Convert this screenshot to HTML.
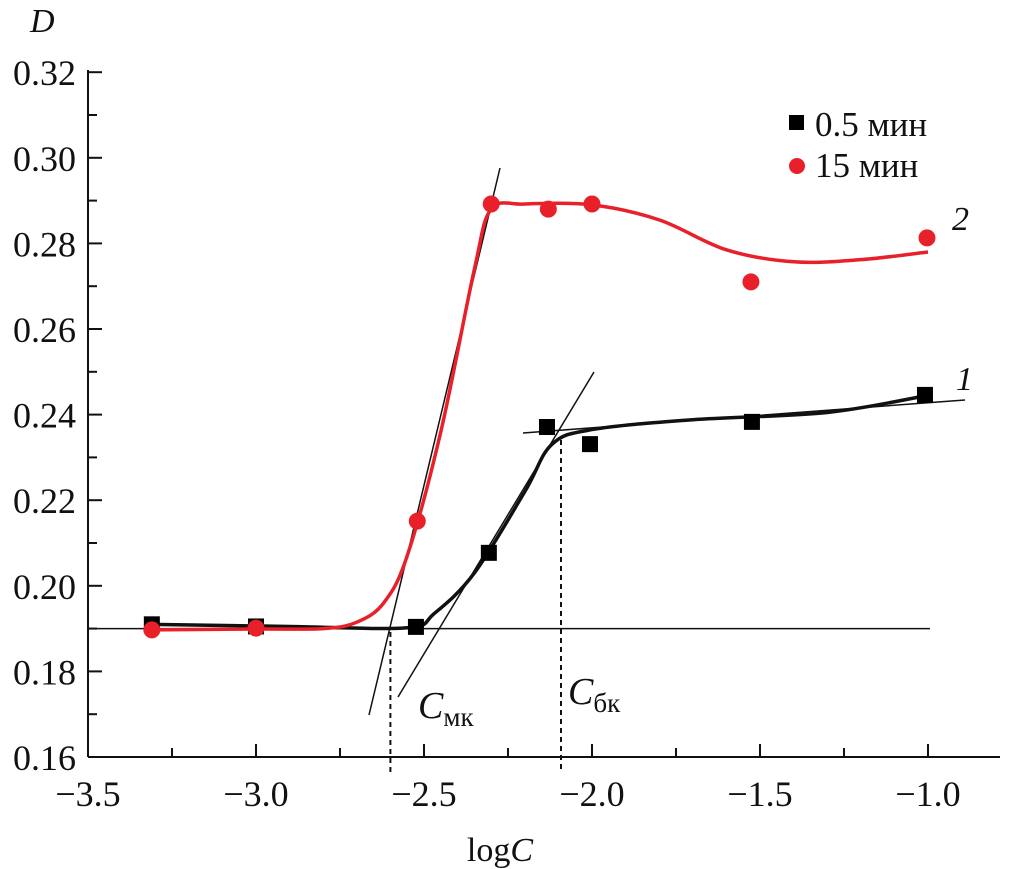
<!DOCTYPE html>
<html><head><meta charset="utf-8"><style>
html,body{margin:0;padding:0;background:#fff;}
svg{display:block;font-family:"Liberation Serif",serif;}
</style></head><body>
<svg id="chart" width="1010" height="869" viewBox="0 0 1010 869" xmlns="http://www.w3.org/2000/svg"></svg>
<script>
const xTicks=[-3.5,-3.0,-2.5,-2.0,-1.5,-1.0];
const xTickLabels=["\u22123.5","\u22123.0","\u22122.5","\u22122.0","\u22121.5","\u22121.0"];
const yTicks=[0.16,0.18,0.20,0.22,0.24,0.26,0.28,0.30,0.32];
const yTickLabels=["0.16","0.18","0.20","0.22","0.24","0.26","0.28","0.30","0.32"];
const s1x=[-3.31,-3.0,-2.524,-2.307,-2.134,-2.006,-1.524,-1.009];
const s1y=[0.191,0.1905,0.1904,0.2077,0.2371,0.2331,0.2383,0.2446];
const s2x=[-3.31,-3.0,-2.52,-2.30,-2.13,-2.0,-1.527,-1.003];
const s2y=[0.1897,0.1901,0.2151,0.2892,0.288,0.2892,0.271,0.2813];
const fit1x=[-3.31,-2.9,-2.55,-2.47,-2.35,-2.2,-2.12,-2.0,-1.7,-1.3,-1.0];
const fit1y=[0.191,0.1905,0.1902,0.1935,0.203,0.222,0.233,0.2365,0.2388,0.2405,0.2445];
const fit2x=[-3.31,-3.0,-2.8,-2.7,-2.62,-2.55,-2.45,-2.35,-2.3,-2.2,-2.0,-1.8,-1.6,-1.4,-1.2,-1.0];
const fit2y=[0.1897,0.1899,0.19,0.1915,0.196,0.207,0.236,0.274,0.288,0.2892,0.289,0.2855,0.2785,0.2757,0.2762,0.278];
const X=v=>88+(v+3.5)*336;
const Y=v=>757-(v-0.16)*4280;
const svg=document.getElementById('chart');
const NS='http://www.w3.org/2000/svg';
function mk(tag,attrs,parent){const e=document.createElementNS(NS,tag);for(const k in attrs)e.setAttribute(k,attrs[k]);(parent||svg).appendChild(e);return e;}
function txt(x,y,str,size,extra){const t=mk('text',Object.assign({x:x,y:y,'font-size':size,fill:'#111'},extra||{}));t.textContent=str;return t;}
function smooth(xs,ys){const p=xs.map((x,i)=>[X(x),Y(ys[i])]);let d='M'+p[0][0]+','+p[0][1];
for(let i=0;i<p.length-1;i++){const p0=p[i-1]||p[i],p1=p[i],p2=p[i+1],p3=p[i+2]||p2;
d+=' C'+(p1[0]+(p2[0]-p0[0])/6)+','+(p1[1]+(p2[1]-p0[1])/6)+' '+(p2[0]-(p3[0]-p1[0])/6)+','+(p2[1]-(p3[1]-p1[1])/6)+' '+p2[0]+','+p2[1];}return d;}
let a=mk('line',{x1:88,y1:757,x2:1000,y2:757,stroke:'#111','stroke-width':2});

a=mk('line',{x1:88,y1:70,x2:88,y2:757,stroke:'#111','stroke-width':2});

for(let v=-3.25;v<=-0.99;v+=0.25){const t=mk('line',{x1:X(v),y1:757,x2:X(v),y2:(Math.abs(v*2-Math.round(v*2))<1e-6)?744:748,stroke:'#111','stroke-width':2});
}
for(let v=0.17;v<=0.3201;v+=0.01){const t=mk('line',{x1:88,y1:Y(v),x2:(Math.round(v*100)%2===0)?102:97,y2:Y(v),stroke:'#111','stroke-width':2});
}
xTicks.forEach((v,i)=>{const t=txt(X(v),806,xTickLabels[i],36,{'text-anchor':'middle'});
});
yTicks.forEach((v,i)=>{const t=txt(76,Y(v)+13,yTickLabels[i],36,{'text-anchor':'end'});
});
let t=txt(500,861,'log',34,{'text-anchor':'middle'});const ts=mk('tspan',{'font-style':'italic'},t);ts.textContent='C';

t=txt(30,32,'D',34,{'font-style':'italic'});

let l=mk('line',{x1:88,y1:Y(0.19),x2:930,y2:Y(0.19),stroke:'#111','stroke-width':1.5});

l=mk('line',{x1:369,y1:715,x2:500,y2:168,stroke:'#111','stroke-width':1.5});

l=mk('line',{x1:398,y1:697,x2:594,y2:372,stroke:'#111','stroke-width':1.5});

l=mk('line',{x1:523,y1:433,x2:965,y2:400,stroke:'#111','stroke-width':1.5});

l=mk('line',{x1:X(-2.6),y1:632,x2:X(-2.6),y2:772,stroke:'#111','stroke-width':2,'stroke-dasharray':'5,4'});

l=mk('line',{x1:561,y1:440,x2:561,y2:772,stroke:'#111','stroke-width':2,'stroke-dasharray':'5,4'});

t=txt(418,718,'C',38,{'font-style':'italic'});const s1=mk('tspan',{'font-size':27,'font-style':'normal',dy:8},t);s1.textContent='мк';

t=txt(568,704,'C',38,{'font-style':'italic'});const s2=mk('tspan',{'font-size':27,'font-style':'normal',dy:8},t);s2.textContent='бк';

let p=mk('path',{d:smooth(fit1x,fit1y),fill:'none',stroke:'#111','stroke-width':3.5});

p=mk('path',{d:smooth(fit2x,fit2y),fill:'none',stroke:'#e8202a','stroke-width':3.5});

s1x.forEach((x,i)=>{const r=mk('rect',{x:X(x)-8,y:Y(s1y[i])-8,width:16,height:16,fill:'#000'});
});
s2x.forEach((x,i)=>{const c=mk('circle',{cx:X(x),cy:Y(s2y[i]),r:8.5,fill:'#e8202a'});
});
t=txt(952,230,'2',34,{'font-style':'italic'});
t=txt(956,390,'1',34,{'font-style':'italic'});
let r=mk('rect',{x:789,y:115,width:15,height:15,fill:'#000'});

t=txt(815,136,'0.5 мин',35);
let c=mk('circle',{cx:797,cy:166,r:8,fill:'#e8202a'});

t=txt(815,177,'15 мин',35);
</script>
</body></html>
